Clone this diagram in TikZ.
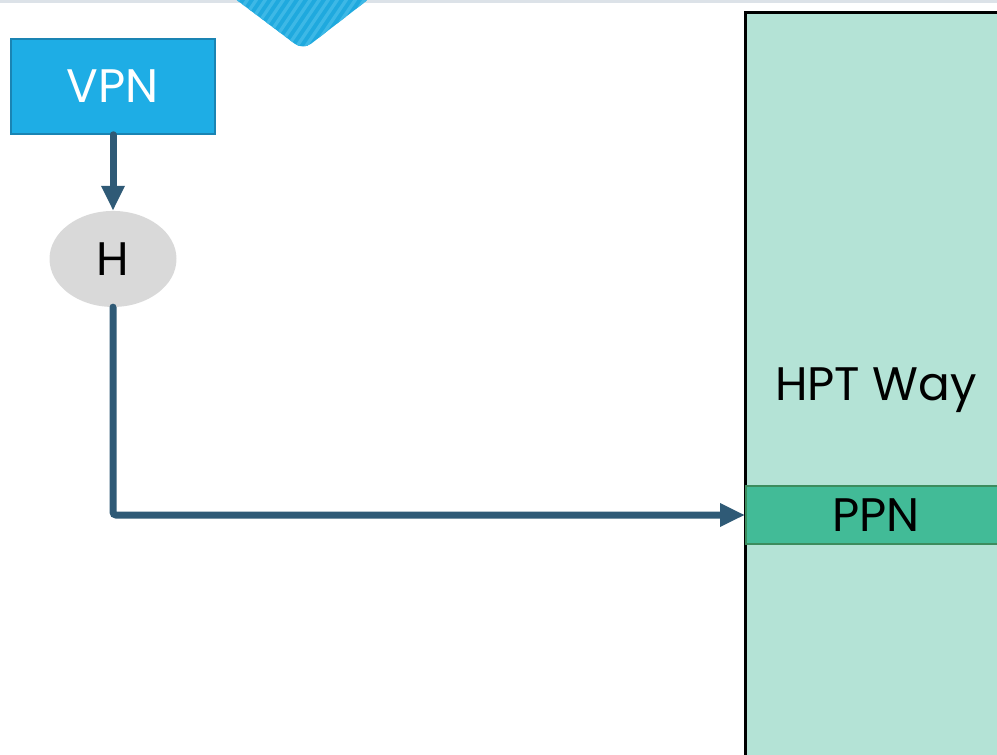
\documentclass[tikz,border=0pt]{standalone}
\usepackage{fontspec}
\setmainfont{Poppins}
\usetikzlibrary{arrows.meta,positioning,shapes.geometric}

\definecolor{vpnblue}{HTML}{1EADE5}
\definecolor{vpnedge}{HTML}{1A84B3}
\definecolor{hashgray}{HTML}{D9D9D9}
\definecolor{linkblue}{HTML}{2F5A76}
\definecolor{waygreen}{HTML}{B4E3D6}
\definecolor{ppngreen}{HTML}{42BB97}
\definecolor{ppnedge}{HTML}{3C8C5E}
\definecolor{chevblue}{HTML}{1FA9DE}
\definecolor{chevstripe}{HTML}{3DB8E6}
\definecolor{topline}{HTML}{DCE2E8}

\tikzset{
  big text/.style={font=\fontsize{47}{52}\selectfont},
  vpnbox/.style={rectangle,draw=vpnedge,fill=vpnblue,line width=1.5pt,
    minimum width=204pt,minimum height=95pt,text=white,big text},
  hashnode/.style={ellipse,fill=hashgray,inner sep=0pt,
    minimum width=127pt,minimum height=96pt,big text},
  waybox/.style={rectangle,draw=black,fill=waygreen,line width=3pt},
  ppnbox/.style={rectangle,draw=ppnedge,fill=ppngreen,line width=1.5pt,
    minimum width=270pt,minimum height=58pt,anchor=west,big text},
  link/.style={draw=linkblue,line width=7pt,line cap=round,
    -{Triangle[length=25pt,width=22pt]}}
}

\begin{document}
\begin{tikzpicture}[x=1pt,y=-1pt]
\useasboundingbox (0,0) rectangle (997,755);
\clip (0,0) rectangle (997,755);

% thin rule along the top edge
\fill[topline] (0,0) rectangle (997,2.5);

% striped chevron
\begin{scope}
  \clip[rounded corners=10pt] (230,-5) -- (303,50) -- (374,-5) -- cycle;
  \fill[chevblue] (220,-10) rectangle (380,55);
  \foreach \s in {0,9,...,240}
    \fill[chevstripe] (180+\s,-10) -- (184+\s,-10) -- (140+\s,55) -- (136+\s,55) -- cycle;
\end{scope}

% page table way and the selected entry
\draw[waybox] (745,12) rectangle (1010,770);
\node[big text] (way) at (876,390) {HPT Way};
\node[ppnbox] (ppn) at (745,515) {\hspace*{-10pt}\raisebox{-2pt}{PPN}};

% virtual page number hashed into the table
\node[vpnbox] (vpn) at (113,86.5) {VPN};
\node[hashnode,below=76pt of vpn] (h) {\raisebox{-3pt}{H}};

\draw[link] (vpn.south) -- (h.north);
\draw[link,rounded corners=3pt] (h.south) |- (ppn.west);
\end{tikzpicture}
\end{document}
